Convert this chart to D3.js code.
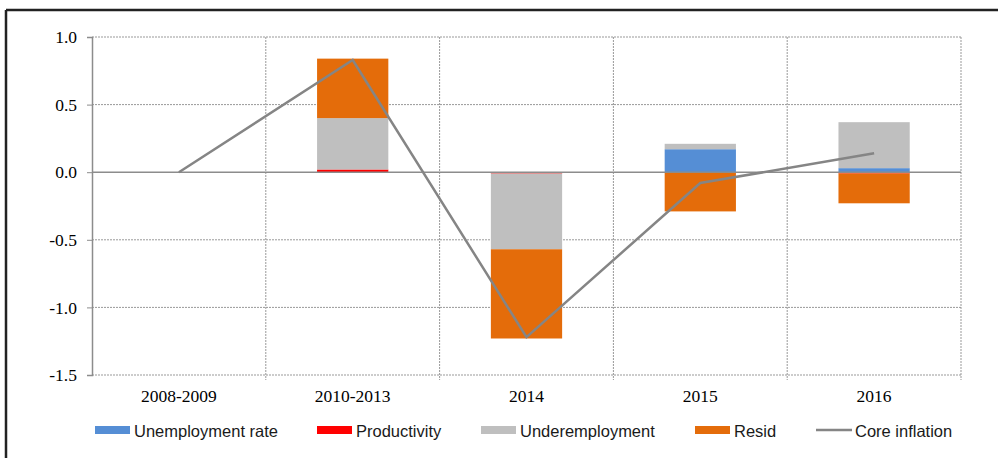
<!DOCTYPE html>
<html>
<head>
<meta charset="utf-8">
<script src="https://d3js.org/d3.v7.min.js"></script>
<style>
  body { margin: 0; background: #fff; }
</style>
</head>
<body>
<div id="chart"></div>
<script>

// data
var categories = ["2008-2009", "2010-2013", "2014", "2015", "2016"];
var unemployment    = [0, 0, 0, 0.17, 0.03];
var productivity    = [0, 0.02, -0.01, 0, -0.01];
var underemployment = [0, 0.38, -0.56, 0.04, 0.34];
var resid           = [0, 0.44, -0.66, -0.29, -0.22];
var coreInflation   = [0, 0.83, -1.22, -0.08, 0.14];
var yTicks = [-1.5, -1.0, -0.5, 0.0, 0.5, 1.0];

var seriesNames = ["Unemployment rate", "Productivity", "Underemployment", "Resid"];
var seriesColors = ["#558ED5", "#FF0000", "#BFBFBF", "#E46C0A"];
var seriesValues = [unemployment, productivity, underemployment, resid];

var W = 998, H = 458;
var margin = {top: 37, right: 37, bottom: 83, left: 92},
    width = W - margin.left - margin.right,
    height = H - margin.top - margin.bottom;

var svg = d3.select("#chart")
  .append("svg")
    .attr("width", W)
    .attr("height", H);

// outer frame (top and left edges only are visible)
svg.append("line")
  .attr("x1", 6).attr("x2", W).attr("y1", 10).attr("y2", 10)
  .style("stroke", "#222").style("stroke-width", 2.5);
svg.append("line")
  .attr("x1", 6).attr("x2", 6).attr("y1", 10).attr("y2", H)
  .style("stroke", "#222").style("stroke-width", 2.5);

var g = svg.append("g")
  .attr("transform", "translate(" + margin.left + "," + margin.top + ")");

var x = d3.scaleBand()
  .domain(categories)
  .range([0, width])
  .paddingInner(0)
  .paddingOuter(0);

var y = d3.scaleLinear()
  .domain([-1.5, 1.0])
  .range([height, 0]);

// horizontal dotted grid
g.append("g")
  .selectAll("line")
  .data(yTicks.filter(function(d) { return d !== 0; }))
  .enter()
  .append("line")
    .attr("x1", 0).attr("x2", width)
    .attr("y1", function(d) { return y(d); })
    .attr("y2", function(d) { return y(d); })
    .style("stroke", "#999")
    .style("stroke-width", 1)
    .style("stroke-dasharray", "2,1");

// vertical dotted grid at category boundaries
var bounds = categories.slice(1).map(function(c) { return x(c); }).concat([width]);
g.append("g")
  .selectAll("line")
  .data(bounds)
  .enter()
  .append("line")
    .attr("x1", function(d) { return d; })
    .attr("x2", function(d) { return d; })
    .attr("y1", 0).attr("y2", height + 5)
    .style("stroke", "#999")
    .style("stroke-width", 1)
    .style("stroke-dasharray", "2,1");

// stacked bars, positive and negative stacked apart
var table = categories.map(function(c, i) {
  var row = {cat: c};
  seriesNames.forEach(function(s, j) { row[s] = seriesValues[j][i]; });
  return row;
});

var stack = d3.stack()
  .keys(seriesNames)
  .offset(d3.stackOffsetDiverging);

var barW = x.bandwidth() * 0.41;

g.append("g")
  .selectAll("g")
  .data(stack(table))
  .enter()
  .append("g")
    .style("fill", function(d, i) { return seriesColors[i]; })
  .selectAll("rect")
  .data(function(d) { return d; })
  .enter()
  .append("rect")
    .attr("x", function(d) { return x(d.data.cat) + (x.bandwidth() - barW) / 2; })
    .attr("width", barW)
    .attr("y", function(d) { return y(Math.max(d[0], d[1])); })
    .attr("height", function(d) { return Math.abs(y(d[0]) - y(d[1])); });

// zero line
g.append("line")
  .attr("x1", 0).attr("x2", width)
  .attr("y1", y(0)).attr("y2", y(0))
  .style("stroke", "#8c8c8c")
  .style("stroke-width", 1.5);

// y axis
var yAxis = g.append("g")
  .call(d3.axisLeft(y)
    .tickValues(yTicks)
    .tickSize(5)
    .tickFormat(function(d) { return d.toFixed(1); }));
yAxis.select(".domain").style("stroke", "#8c8c8c").style("stroke-width", 1.5);
yAxis.selectAll(".tick line").style("stroke", "#8c8c8c");
yAxis.selectAll("text")
  .attr("x", -15)
  .style("font-family", "'Liberation Serif', 'Times New Roman', serif")
  .style("font-size", "17.5px")
  .style("fill", "#000");

// category labels
g.append("g")
  .selectAll("text")
  .data(categories)
  .enter()
  .append("text")
    .attr("x", function(d) { return x(d) + x.bandwidth() / 2; })
    .attr("y", height + 27)
    .attr("text-anchor", "middle")
    .style("font-family", "'Liberation Serif', 'Times New Roman', serif")
    .style("font-size", "17.5px")
    .style("fill", "#000")
    .text(function(d) { return d; });

// core inflation line
var line = d3.line()
  .x(function(d, i) { return x(categories[i]) + x.bandwidth() / 2; })
  .y(function(d) { return y(d); });

g.append("path")
  .datum(coreInflation)
  .attr("d", line)
  .style("fill", "none")
  .style("stroke", "#858585")
  .style("stroke-width", 2.5);

// legend
var legendX = [95, 317, 481, 695, 816];
var legendItems = seriesNames.concat(["Core inflation"]);
var legend = svg.append("g")
  .selectAll("g")
  .data(legendItems)
  .enter()
  .append("g")
    .attr("transform", function(d, i) { return "translate(" + legendX[i] + ",430)"; });

legend.each(function(d, i) {
  var item = d3.select(this);
  if (i < 4) {
    item.append("rect")
      .attr("x", 0).attr("y", -4)
      .attr("width", 35).attr("height", 8)
      .style("fill", seriesColors[i]);
  } else {
    item.append("line")
      .attr("x1", 0).attr("x2", 36)
      .attr("y1", 0).attr("y2", 0)
      .style("stroke", "#858585")
      .style("stroke-width", 2.5);
  }
  item.append("text")
    .attr("x", 39)
    .attr("y", 7)
    .style("font-family", "'Liberation Sans', Arial, sans-serif")
    .style("font-size", "16.5px")
    .style("fill", "#1a1a1a")
    .text(d);
});

</script>
</body>
</html>
